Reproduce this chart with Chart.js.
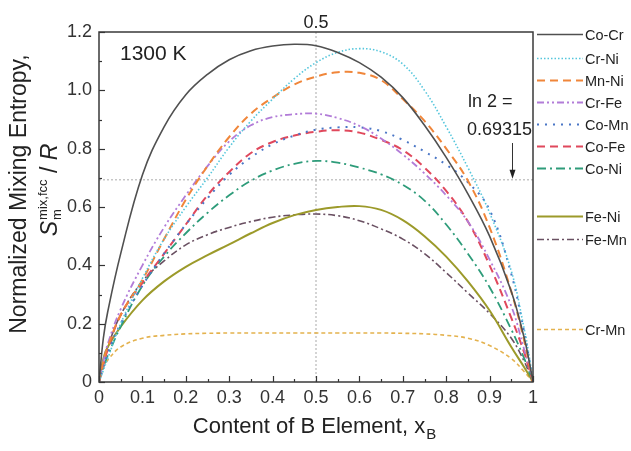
<!DOCTYPE html>
<html>
<head>
<meta charset="utf-8">
<script src="https://cdn.jsdelivr.net/npm/chart.js@4.4.1/dist/chart.umd.min.js"></script>
<style>
  html, body { margin: 0; padding: 0; background: #fff; }
  canvas { display: block; }
</style>
</head>
<body>
<canvas id="entropyChart" width="631" height="451"></canvas>
<script>
// == data == //
const xB = [0, 0.01, 0.02, 0.05, 0.1, 0.15, 0.2, 0.25, 0.3, 0.35, 0.4, 0.45, 0.5,
            0.55, 0.6, 0.65, 0.7, 0.75, 0.8, 0.85, 0.9, 0.95, 0.98, 0.99, 1];

const coCr = [0, 0.15, 0.24, 0.44, 0.71, 0.875, 0.985, 1.055, 1.105, 1.136, 1.152, 1.158, 1.153,
              1.13, 1.095, 1.045, 0.975, 0.88, 0.77, 0.645, 0.5, 0.31, 0.15, 0.08, 0];
const crNi = [0, 0.04, 0.08, 0.2, 0.355, 0.49, 0.6, 0.7, 0.805, 0.895, 0.97, 1.04, 1.095,
              1.13, 1.143, 1.132, 1.09, 1.0, 0.875, 0.735, 0.58, 0.38, 0.18, 0.1, 0];
const mnNi = [0, 0.07, 0.12, 0.23, 0.35, 0.49, 0.625, 0.74, 0.84, 0.92, 0.975, 1.02, 1.047,
              1.062, 1.06, 1.035, 0.97, 0.895, 0.8, 0.69, 0.53, 0.31, 0.14, 0.07, 0];
const crFe = [0, 0.07, 0.13, 0.25, 0.4, 0.53, 0.64, 0.74, 0.825, 0.88, 0.908, 0.918, 0.92,
              0.905, 0.878, 0.835, 0.78, 0.715, 0.64, 0.55, 0.42, 0.26, 0.11, 0.06, 0];
const coMn = [0, 0.05, 0.1, 0.2, 0.33, 0.44, 0.54, 0.63, 0.71, 0.77, 0.815, 0.845, 0.865,
              0.873, 0.873, 0.86, 0.83, 0.79, 0.745, 0.685, 0.59, 0.37, 0.17, 0.09, 0];
const coFe = [0, 0.06, 0.11, 0.23, 0.34, 0.44, 0.54, 0.64, 0.72, 0.785, 0.823, 0.845, 0.858,
              0.863, 0.855, 0.83, 0.795, 0.735, 0.655, 0.55, 0.4, 0.22, 0.1, 0.05, 0];
const coNi = [0, 0.05, 0.09, 0.19, 0.33, 0.43, 0.51, 0.58, 0.64, 0.69, 0.725, 0.748, 0.758,
              0.752, 0.735, 0.712, 0.676, 0.622, 0.54, 0.44, 0.325, 0.18, 0.08, 0.04, 0];
const feNi = [0, 0.08, 0.12, 0.19, 0.28, 0.345, 0.395, 0.435, 0.472, 0.51, 0.545, 0.572, 0.59,
              0.6, 0.603, 0.59, 0.555, 0.5, 0.43, 0.345, 0.245, 0.12, 0.05, 0.025, 0];
const feMn = [0, 0.07, 0.12, 0.23, 0.345, 0.415, 0.47, 0.505, 0.53, 0.55, 0.565, 0.573, 0.576,
              0.57, 0.553, 0.525, 0.49, 0.44, 0.375, 0.305, 0.235, 0.15, 0.07, 0.035, 0];
const crMn = [0, 0.05, 0.075, 0.12, 0.15, 0.16, 0.165, 0.167, 0.168, 0.168, 0.168, 0.168, 0.168,
              0.168, 0.168, 0.168, 0.167, 0.165, 0.16, 0.15, 0.125, 0.08, 0.035, 0.018, 0];

const seriesNames = ["Co-Cr", "Cr-Ni", "Mn-Ni", "Cr-Fe", "Co-Mn", "Co-Fe", "Co-Ni", "Fe-Ni", "Fe-Mn", "Cr-Mn"];
const seriesValues = [coCr, crNi, mnNi, crFe, coMn, coFe, coNi, feNi, feMn, crMn];

const xTicks = [0, 0.1, 0.2, 0.3, 0.4, 0.5, 0.6, 0.7, 0.8, 0.9, 1];
const yTicks = [0, 0.2, 0.4, 0.6, 0.8, 1.0, 1.2];
const ln2 = 0.69315;
const xMark = 0.5;

// styles (colour, dash, width) and legend rows, same order as seriesNames
const styles = [
    { color: "#505050", dash: [], width: 1.6 },
    { color: "#55c6dc", dash: [1.5, 2], width: 1.6 },
    { color: "#f0863a", dash: [8, 5], width: 2 },
    { color: "#b27cd8", dash: [7, 3, 2, 3, 2, 3], width: 1.8 },
    { color: "#4a76c6", dash: [2, 6], width: 2 },
    { color: "#e0485c", dash: [8, 5], width: 2 },
    { color: "#2e9c7a", dash: [9, 4, 2, 4], width: 1.8 },
    { color: "#9c9a2a", dash: [], width: 2 },
    { color: "#6a5062", dash: [7, 3, 2, 3], width: 1.6 },
    { color: "#e4b24e", dash: [4, 3], width: 1.6 },
];
const legendRowY = [34, 58, 80, 102, 124, 146, 168, 216, 239, 329];

const FONT = "'Liberation Sans', Arial, sans-serif";

const datasets = seriesNames.map((name, i) => ({
    label: name,
    data: xB.map((x, k) => ({ x: x, y: seriesValues[i][k] })),
    borderColor: styles[i].color,
    borderDash: styles[i].dash,
    borderWidth: styles[i].width,
    pointRadius: 0,
    fill: false,
    tension: 0.4,
}));

// reference lines go last so they sit behind the curves
datasets.push({
    label: "ln2",
    data: [{ x: 0, y: ln2 }, { x: 1, y: ln2 }],
    borderColor: "#aaaaaa", borderDash: [2, 2], borderWidth: 1, pointRadius: 0, tension: 0,
});
datasets.push({
    label: "x05",
    data: [{ x: xMark, y: 0 }, { x: xMark, y: 1.2 }],
    borderColor: "#aaaaaa", borderDash: [2, 2], borderWidth: 1, pointRadius: 0, tension: 0,
});

// frame, inward ticks, titles, notes and the hand-placed legend
const decorations = {
    id: "decorations",
    afterDraw(chart) {
        const ctx = chart.ctx;
        const a = chart.chartArea;
        const xs = chart.scales.x, ys = chart.scales.y;
        ctx.save();

        // ticks
        ctx.strokeStyle = "#333";
        ctx.lineWidth = 1.2;
        ctx.setLineDash([]);
        for (let i = 0; i <= 20; i++) {
            const px = Math.round(xs.getPixelForValue(i * 0.05)) + 0.5;
            const len = i % 2 === 0 ? 6 : 3;
            ctx.beginPath(); ctx.moveTo(px, a.bottom); ctx.lineTo(px, a.bottom - len); ctx.stroke();
        }
        for (let i = 0; i <= 12; i++) {
            const py = Math.round(ys.getPixelForValue(i * 0.1)) + 0.5;
            const len = i % 2 === 0 ? 6 : 3;
            ctx.beginPath(); ctx.moveTo(a.left, py); ctx.lineTo(a.left + len, py); ctx.stroke();
        }

        // frame
        ctx.lineWidth = 1.5;
        ctx.strokeStyle = "#3a3a3a";
        ctx.strokeRect(a.left, a.top, a.right - a.left, a.bottom - a.top);

        // texts inside / above the plot
        ctx.fillStyle = "#222";
        ctx.textBaseline = "alphabetic";
        ctx.textAlign = "left";
        ctx.font = "21px " + FONT;
        ctx.fillText("1300 K", 120, 60);

        ctx.font = "18px " + FONT;
        ctx.textAlign = "center";
        ctx.fillText("0.5", xs.getPixelForValue(xMark), 28);

        ctx.textAlign = "left";
        ctx.font = "18px " + FONT;
        ctx.fillText("ln 2 =", 468, 107);
        ctx.fillText("0.69315", 467, 135);

        // arrow pointing at ln 2 line
        const ax = 512.5;
        const ayEnd = ys.getPixelForValue(ln2) - 1;
        ctx.strokeStyle = "#333";
        ctx.lineWidth = 1;
        ctx.beginPath(); ctx.moveTo(ax, 143); ctx.lineTo(ax, ayEnd - 6); ctx.stroke();
        ctx.fillStyle = "#222";
        ctx.beginPath();
        ctx.moveTo(ax, ayEnd); ctx.lineTo(ax - 3, ayEnd - 9); ctx.lineTo(ax + 3, ayEnd - 9);
        ctx.closePath(); ctx.fill();

        // x axis title
        ctx.fillStyle = "#222";
        const main = "Content of B Element, x";
        ctx.font = "22px " + FONT;
        const wMain = ctx.measureText(main).width;
        ctx.font = "15px " + FONT;
        const wSub = ctx.measureText("B").width;
        const sx = 314 - (wMain + wSub) / 2;
        ctx.textAlign = "left";
        ctx.font = "22px " + FONT;
        ctx.fillText(main, sx, 433);
        ctx.font = "15px " + FONT;
        ctx.fillText("B", sx + wMain + 1, 439);

        // y axis title (two rotated lines)
        ctx.save();
        ctx.translate(26, 194);
        ctx.rotate(-Math.PI / 2);
        ctx.textAlign = "center";
        ctx.font = "23px " + FONT;
        ctx.fillText("Normalized Mixing Entropy,", 0, 0);
        ctx.restore();

        ctx.save();
        ctx.translate(57, 190);
        ctx.rotate(-Math.PI / 2);
        ctx.textAlign = "left";
        const fBig = "23px " + FONT, fBigI = "italic 23px " + FONT, fSmall = "13px " + FONT;
        ctx.font = fBigI; const wS = ctx.measureText("S").width;
        ctx.font = fSmall; const wSup = ctx.measureText("mix,fcc").width;
        ctx.font = fBig; const wSl = ctx.measureText(" / ").width;
        ctx.font = fBigI; const wR = ctx.measureText("R").width;
        let px = -(wS + 1 + wSup + wSl + wR) / 2;
        ctx.font = fBigI; ctx.fillText("S", px, 0); px += wS + 1;
        ctx.font = fSmall;
        ctx.fillText("mix,fcc", px, -10);
        ctx.fillText("m", px, 4);
        px += wSup;
        ctx.font = fBig; ctx.fillText(" / ", px, 0); px += wSl;
        ctx.font = fBigI; ctx.fillText("R", px, 0);
        ctx.restore();

        // legend
        ctx.font = "14.5px " + FONT;
        ctx.textAlign = "left";
        ctx.textBaseline = "middle";
        seriesNames.forEach((name, i) => {
            const y = legendRowY[i] + 0.5;
            ctx.strokeStyle = styles[i].color;
            ctx.lineWidth = styles[i].width;
            ctx.setLineDash(styles[i].dash);
            ctx.beginPath(); ctx.moveTo(537, y); ctx.lineTo(583, y); ctx.stroke();
            ctx.setLineDash([]);
            ctx.fillStyle = "#222";
            ctx.fillText(name, 585, y + 1);
        });

        ctx.restore();
    }
};

new Chart(document.getElementById("entropyChart").getContext("2d"), {
    type: "line",
    data: { datasets: datasets },
    options: {
        responsive: false,
        animation: false,
        devicePixelRatio: 1,
        layout: { padding: { top: 32, right: 98, left: 0, bottom: 0 } },
        plugins: { legend: { display: false }, tooltip: { enabled: false } },
        scales: {
            x: {
                type: "linear", min: 0, max: 1,
                afterFit: s => { s.height = 69; },
                afterBuildTicks: s => { s.ticks = xTicks.map(v => ({ value: v })); },
                ticks: {
                    autoSkip: false, maxRotation: 0, padding: 5, color: "#333",
                    font: { size: 18, family: FONT },
                    callback: v => (v === 0 ? "0" : Math.abs(v - 1) < 1e-9 ? "1" : v.toFixed(1)),
                },
                grid: { display: false, drawTicks: false },
                border: { display: false },
            },
            y: {
                type: "linear", min: 0, max: 1.2,
                afterFit: s => { s.width = 99; },
                afterBuildTicks: s => { s.ticks = yTicks.map(v => ({ value: v })); },
                ticks: {
                    padding: 7, color: "#333",
                    font: { size: 18, family: FONT },
                    callback: v => (v === 0 ? "0" : v.toFixed(1)),
                },
                grid: { display: false, drawTicks: false },
                border: { display: false },
            },
        },
    },
    plugins: [decorations],
});
</script>
</body>
</html>
